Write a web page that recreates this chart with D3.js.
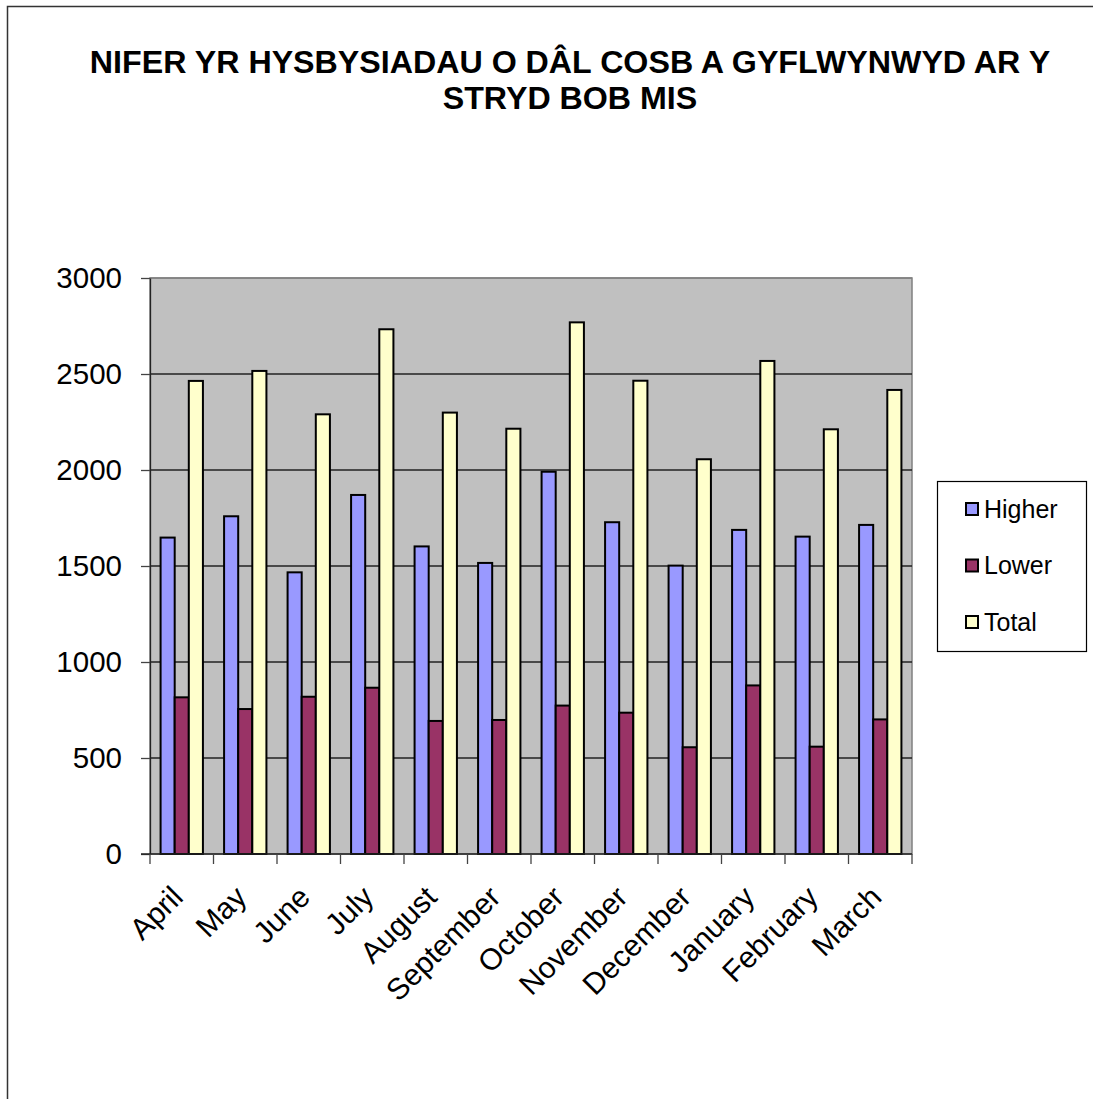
<!DOCTYPE html>
<html>
<head>
<meta charset="utf-8">
<script src="https://cdn.jsdelivr.net/npm/d3@7"></script>
<style>
  html, body { margin: 0; padding: 0; background: #fff; }
  svg { display: block; font-family: "Liberation Sans", Arial, sans-serif; }
</style>
</head>
<body>
<svg id="chart" width="1093" height="1099"></svg>
<script>
const titleLines = ["NIFER YR HYSBYSIADAU O DÂL COSB A GYFLWYNWYD AR Y", "STRYD BOB MIS"];
const months = ["April", "May", "June", "July", "August", "September", "October", "November", "December", "January", "February", "March"];
const seriesNames = ["Higher", "Lower", "Total"];
const higher = [1648, 1759, 1467, 1870, 1602, 1516, 1991, 1728, 1502, 1688, 1653, 1714];
const lower  = [816, 755, 819, 866, 693, 698, 773, 736, 556, 878, 559, 701];
const total  = [2464, 2516, 2290, 2733, 2299, 2215, 2769, 2465, 2056, 2568, 2212, 2417];
const yTicks = [0, 500, 1000, 1500, 2000, 2500, 3000];
const colors = ["#9999FF", "#993366", "#FFFFCC"];

const seriesValues = [higher, lower, total];
const svg = d3.select("#chart");

// outer chart border (extends past the right/bottom of the picture)
svg.append("rect")
  .attr("x", 7.5).attr("y", 6.5).attr("width", 1200).attr("height", 1200)
  .attr("fill", "#fff").attr("stroke", "#333").attr("stroke-width", 1.5);

const plot = { left: 150, top: 278, right: 912, bottom: 854 };

const x0 = d3.scaleBand().domain(months).range([plot.left, plot.right]).paddingInner(0.3333).paddingOuter(0.1667);
const x1 = d3.scaleBand().domain(seriesNames).range([0, x0.bandwidth()]);
const xCat = d3.scaleBand().domain(months).range([plot.left, plot.right]);
const y = d3.scaleLinear().domain([0, 3000]).range([plot.bottom, plot.top]);

// plot background
svg.append("rect")
  .attr("x", plot.left).attr("y", plot.top)
  .attr("width", plot.right - plot.left).attr("height", plot.bottom - plot.top)
  .attr("fill", "#C0C0C0").attr("stroke", "#808080").attr("stroke-width", 1.5);

// gridlines
svg.append("g").selectAll("line")
  .data(yTicks.filter(d => d > 0))
  .join("line")
  .attr("x1", plot.left).attr("x2", plot.right)
  .attr("y1", d => y(d)).attr("y2", d => y(d))
  .attr("stroke", d => d === 3000 ? "#808080" : "#222").attr("stroke-width", 1.3);

// bars
const groups = svg.append("g").selectAll("g")
  .data(months)
  .join("g")
  .attr("transform", d => `translate(${x0(d)},0)`);

groups.selectAll("rect")
  .data((m, i) => seriesNames.map((s, k) => ({ s, k, v: seriesValues[k][i] })))
  .join("rect")
  .attr("x", d => x1(d.s))
  .attr("y", d => y(d.v))
  .attr("width", x1.bandwidth())
  .attr("height", d => y(0) - y(d.v))
  .attr("fill", d => colors[d.k])
  .attr("stroke", "#000")
  .attr("stroke-width", 2);

// y axis
const yAxis = svg.append("g")
  .attr("transform", `translate(${plot.left},0)`)
  .call(d3.axisLeft(y).tickValues(yTicks).tickFormat(d3.format("d")).tickSize(9).tickPadding(19).tickSizeOuter(0));
yAxis.select(".domain").attr("stroke", "#222").attr("stroke-width", 1.3);
yAxis.selectAll(".tick line").attr("stroke", "#444").attr("stroke-width", 1.3);
yAxis.selectAll(".tick text").attr("font-size", 29.5).attr("fill", "#000")
  .attr("font-family", "'Liberation Sans', Arial, sans-serif");

// x axis baseline and ticks at category boundaries
svg.append("line")
  .attr("x1", plot.left - 9).attr("x2", plot.right)
  .attr("y1", y(0)).attr("y2", y(0))
  .attr("stroke", "#222").attr("stroke-width", 1.3);
const boundaries = months.map(m => xCat(m)).concat([plot.right]);
svg.append("g").selectAll("line")
  .data(boundaries)
  .join("line")
  .attr("x1", d => d).attr("x2", d => d)
  .attr("y1", y(0)).attr("y2", y(0) + 10)
  .attr("stroke", "#444").attr("stroke-width", 1.3);

// x labels (rotated)
svg.append("g").selectAll("text")
  .data(months)
  .join("text")
  .attr("transform", d => `translate(${xCat(d) + xCat.bandwidth() / 2 + 3},${y(0) + 45}) rotate(-45)`)
  .attr("text-anchor", "end")
  .attr("font-size", 30)
  .attr("fill", "#000")
  .text(d => d);

// title
svg.append("g").selectAll("text")
  .data(titleLines)
  .join("text")
  .attr("x", 570)
  .attr("y", (d, i) => 73 + i * 36)
  .attr("text-anchor", "middle")
  .attr("font-size", 32.2)
  .attr("font-weight", "bold")
  .attr("fill", "#000")
  .text(d => d);

// legend
const legend = svg.append("g");
legend.append("rect")
  .attr("x", 937.5).attr("y", 481.5).attr("width", 149).attr("height", 170)
  .attr("fill", "#fff").attr("stroke", "#000").attr("stroke-width", 1.2);
const items = legend.selectAll("g.item")
  .data(seriesNames)
  .join("g")
  .attr("class", "item")
  .attr("transform", (d, i) => `translate(0,${509 + i * 56.5})`);
items.append("rect")
  .attr("x", 966).attr("y", -6).attr("width", 12).attr("height", 12)
  .attr("fill", (d, i) => colors[i]).attr("stroke", "#000").attr("stroke-width", 2);
items.append("text")
  .attr("x", 984).attr("y", 0).attr("dy", "0.35em")
  .attr("font-size", 25).attr("fill", "#000")
  .text(d => d);
</script>
</body>
</html>
